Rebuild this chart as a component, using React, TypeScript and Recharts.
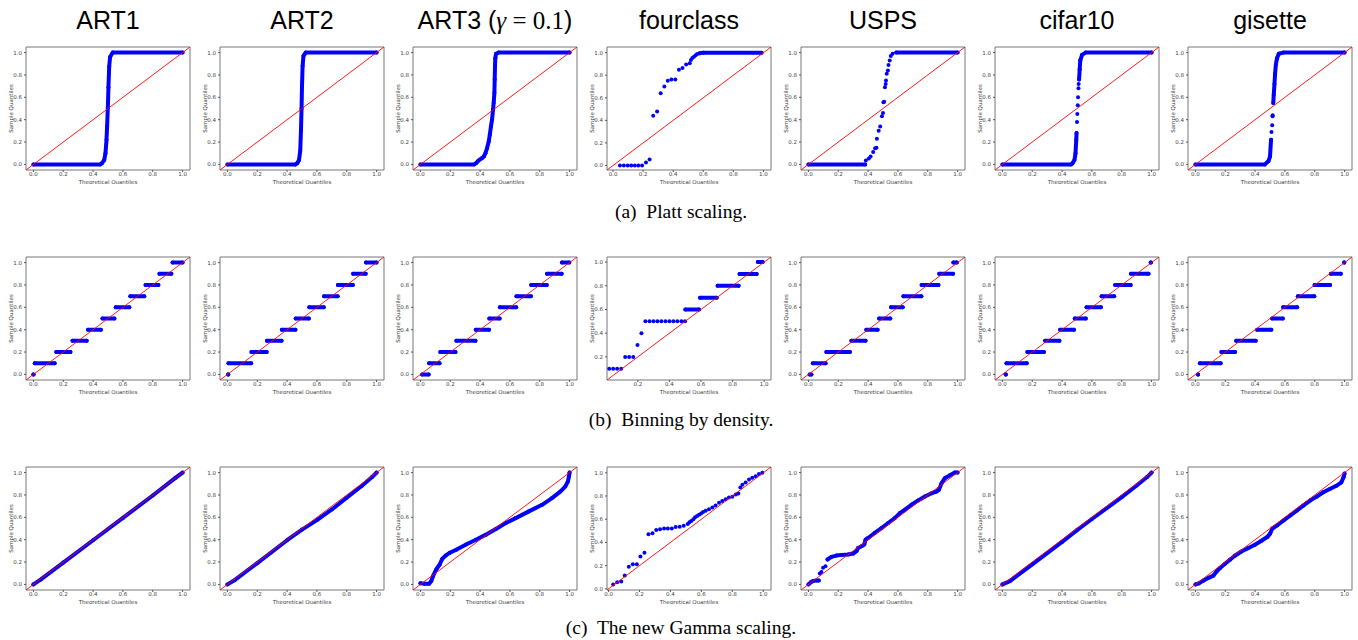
import React from "react";
import { ScatterChart, Scatter, XAxis, YAxis, ReferenceArea } from "recharts";

type Pt = [number, number];
type Step = [number, number, number]; // x from, x to, y

const columns = ["ART1", "ART2", "ART3", "fourclass", "USPS", "cifar10", "gisette"];
const captions = ["(a)  Platt scaling.", "(b)  Binning by density.", "(c)  The new Gamma scaling."];
const ticksAll = [0, 0.2, 0.4, 0.6, 0.8, 1.0];
const ticksFrom02 = [0.2, 0.4, 0.6, 0.8, 1.0];

// (a) Platt scaling
const plattArt1: Pt[] = [[0, 0], [0.448, 0], [0.459, 0.01], [0.475, 0.04], [0.483, 0.1], [0.49, 0.22], [0.494, 0.34], [0.499, 0.51], [0.503, 0.69], [0.508, 0.875], [0.514, 0.96], [0.532, 1], [1, 1]];
const plattArt2: Pt[] = [[0, 0], [0.455, 0], [0.468, 0.01], [0.48, 0.04], [0.488, 0.12], [0.493, 0.3], [0.497, 0.5], [0.5, 0.7], [0.504, 0.88], [0.51, 0.97], [0.525, 1], [1, 1]];
const plattArt3: Pt[] = [[0, 0], [0.36, 0], [0.374, 0.012], [0.39, 0.036], [0.414, 0.057], [0.425, 0.07], [0.436, 0.1], [0.447, 0.146], [0.458, 0.205], [0.465, 0.265], [0.473, 0.34], [0.48, 0.4], [0.487, 0.49], [0.491, 0.55], [0.496, 0.64], [0.498, 0.76], [0.5, 0.875], [0.502, 0.95], [0.507, 0.99], [0.524, 1], [1, 1]];
const plattFourclassDots: Pt[] = [[0.046, 0], [0.072, 0], [0.098, 0], [0.121, 0], [0.145, 0], [0.169, 0], [0.193, 0], [0.219, 0.027], [0.243, 0.054], [0.267, 0.44], [0.293, 0.479], [0.317, 0.64], [0.341, 0.7], [0.364, 0.75], [0.388, 0.762], [0.414, 0.762], [0.438, 0.848], [0.462, 0.863], [0.486, 0.896], [0.51, 0.905], [0.518, 0.935], [0.527, 0.952], [0.538, 0.964], [0.549, 0.976], [0.56, 0.988]];
const plattFourclassTail: Pt[] = [[0.575, 0.994], [0.6, 1], [0.987, 1]];
const plattUspsLow: Pt[] = [[0, 0], [0.38, 0]];
const plattUspsDots: Pt[] = [[0.385, 0.036], [0.405, 0.053], [0.417, 0.07], [0.434, 0.11], [0.447, 0.145], [0.456, 0.15], [0.459, 0.23], [0.471, 0.3], [0.481, 0.34], [0.493, 0.43], [0.5, 0.46], [0.503, 0.555], [0.508, 0.56], [0.513, 0.69], [0.518, 0.72], [0.52, 0.75], [0.525, 0.81], [0.533, 0.84], [0.537, 0.89], [0.545, 0.93], [0.552, 0.97], [0.564, 0.99]];
const plattUspsHigh: Pt[] = [[0.589, 1], [1, 1]];
const plattCifarLow: Pt[] = [[0, 0], [0.46, 0], [0.47, 0.01], [0.483, 0.04], [0.49, 0.1], [0.495, 0.22], [0.497, 0.28]];
const plattCifarDots: Pt[] = [[0.5, 0.38], [0.502, 0.45], [0.505, 0.53], [0.507, 0.6], [0.51, 0.68], [0.511, 0.72]];
const plattCifarHigh: Pt[] = [[0.514, 0.76], [0.518, 0.85], [0.522, 0.93], [0.534, 0.98], [0.558, 1], [1, 1]];
const plattGisetteLow: Pt[] = [[0, 0], [0.466, 0], [0.49, 0.03], [0.5, 0.07], [0.507, 0.22]];
const plattGisetteDots: Pt[] = [[0.51, 0.29], [0.515, 0.35], [0.517, 0.43], [0.518, 0.44]];
const plattGisetteHigh: Pt[] = [[0.522, 0.55], [0.525, 0.62], [0.53, 0.72], [0.534, 0.81], [0.539, 0.89], [0.547, 0.95], [0.559, 0.99], [0.588, 1], [1, 1]];

// (b) Binning by density
const binArt1: Step[] = [[0, 0, 0], [0.009, 0.142, 0.1], [0.153, 0.248, 0.2], [0.262, 0.357, 0.3], [0.366, 0.452, 0.4], [0.463, 0.543, 0.5], [0.552, 0.643, 0.6], [0.65, 0.743, 0.7], [0.752, 0.838, 0.8], [0.845, 0.925, 0.9], [0.933, 1.0, 1.0]];
const binArt2: Step[] = [[0.005, 0.005, 0], [0.007, 0.159, 0.1], [0.161, 0.263, 0.2], [0.265, 0.363, 0.3], [0.365, 0.456, 0.4], [0.458, 0.546, 0.5], [0.549, 0.646, 0.6], [0.648, 0.739, 0.7], [0.741, 0.841, 0.8], [0.843, 0.927, 0.9], [0.929, 1.0, 1.0]];
const binArt3: Step[] = [[0.011, 0.055, 0], [0.058, 0.128, 0.1], [0.133, 0.235, 0.2], [0.241, 0.369, 0.3], [0.371, 0.46, 0.4], [0.462, 0.531, 0.5], [0.533, 0.642, 0.6], [0.644, 0.741, 0.7], [0.743, 0.847, 0.8], [0.849, 0.947, 0.9], [0.949, 0.998, 1.0]];
const binFourclassDots: Pt[] = [[0.019, 0.1], [0.044, 0.1], [0.069, 0.1], [0.095, 0.1], [0.12, 0.2], [0.145, 0.2], [0.171, 0.2], [0.198, 0.3], [0.223, 0.4], [0.248, 0.5], [0.274, 0.5], [0.299, 0.5], [0.324, 0.5], [0.349, 0.5], [0.375, 0.5], [0.4, 0.5], [0.425, 0.5], [0.45, 0.5], [0.476, 0.5], [0.499, 0.5]];
const binFourclass: Step[] = [[0.501, 0.587, 0.6], [0.594, 0.699, 0.7], [0.705, 0.838, 0.8], [0.844, 0.952, 0.9], [0.96, 0.99, 1.0]];
const binUsps: Step[] = [[0.008, 0.02, 0], [0.03, 0.115, 0.1], [0.12, 0.278, 0.2], [0.288, 0.383, 0.3], [0.388, 0.464, 0.4], [0.474, 0.549, 0.5], [0.554, 0.632, 0.6], [0.637, 0.757, 0.7], [0.759, 0.872, 0.8], [0.877, 0.97, 0.9], [0.972, 0.995, 1.0]];
const binCifar: Step[] = [[0.022, 0.022, 0], [0.027, 0.163, 0.1], [0.167, 0.278, 0.2], [0.286, 0.382, 0.3], [0.387, 0.48, 0.4], [0.485, 0.559, 0.5], [0.564, 0.66, 0.6], [0.665, 0.749, 0.7], [0.756, 0.86, 0.8], [0.862, 0.98, 0.9], [0.995, 0.995, 1.0]];
const binGisette: Step[] = [[0.017, 0.017, 0], [0.03, 0.169, 0.1], [0.174, 0.266, 0.2], [0.273, 0.404, 0.3], [0.414, 0.509, 0.4], [0.514, 0.586, 0.5], [0.588, 0.682, 0.6], [0.687, 0.797, 0.7], [0.799, 0.903, 0.8], [0.908, 0.975, 0.9], [0.998, 0.998, 1.0]];

// (c) The new Gamma scaling
const gammaArt1: Pt[] = [[0, 0], [0.05, 0.045], [0.2, 0.195], [0.4, 0.395], [0.6, 0.595], [0.8, 0.795], [0.95, 0.95], [1, 1]];
const gammaArt2: Pt[] = [[0, 0], [0.05, 0.04], [0.2, 0.19], [0.4, 0.395], [0.5, 0.49], [0.6, 0.575], [0.7, 0.67], [0.8, 0.775], [0.9, 0.88], [0.97, 0.96], [1, 1]];
const gammaArt3: Pt[] = [[0, 0.01], [0.029, 0.006], [0.058, 0.006], [0.073, 0.03], [0.084, 0.074], [0.106, 0.134], [0.129, 0.178], [0.146, 0.228], [0.169, 0.258], [0.195, 0.282], [0.24, 0.31], [0.306, 0.356], [0.372, 0.4], [0.439, 0.445], [0.506, 0.496], [0.572, 0.549], [0.639, 0.593], [0.727, 0.653], [0.816, 0.712], [0.882, 0.772], [0.938, 0.83], [0.971, 0.875], [0.989, 0.92], [0.996, 0.964], [1, 1]];
const gammaFourclassDots: Pt[] = [[0.03, 0.037], [0.056, 0.057], [0.082, 0.063], [0.105, 0.115], [0.131, 0.19], [0.157, 0.212], [0.183, 0.212], [0.206, 0.278], [0.232, 0.312], [0.258, 0.47], [0.284, 0.478], [0.308, 0.507], [0.333, 0.513], [0.359, 0.519], [0.383, 0.519], [0.409, 0.521], [0.434, 0.533], [0.46, 0.536], [0.486, 0.544], [0.512, 0.559], [0.523, 0.573], [0.535, 0.585], [0.548, 0.599], [0.559, 0.616], [0.572, 0.628], [0.585, 0.639], [0.598, 0.65], [0.611, 0.662], [0.628, 0.673], [0.649, 0.685], [0.671, 0.702], [0.692, 0.719], [0.714, 0.742], [0.735, 0.756], [0.757, 0.771], [0.778, 0.788], [0.8, 0.794], [0.822, 0.814], [0.839, 0.822], [0.852, 0.874], [0.865, 0.897], [0.886, 0.917], [0.908, 0.943], [0.929, 0.957], [0.951, 0.971], [0.972, 0.989], [0.994, 1.0]];
const gammaUspsLow: Pt[] = [[0, 0], [0.016, 0.02], [0.031, 0.03], [0.054, 0.036], [0.069, 0.036]];
const gammaUspsDots: Pt[] = [[0.076, 0.098], [0.087, 0.11], [0.098, 0.148], [0.114, 0.163]];
const gammaUspsHigh: Pt[] = [[0.128, 0.223], [0.154, 0.246], [0.188, 0.258], [0.221, 0.264], [0.266, 0.267], [0.3, 0.276], [0.322, 0.297], [0.333, 0.326], [0.356, 0.341], [0.374, 0.356], [0.383, 0.4], [0.4, 0.415], [0.445, 0.46], [0.49, 0.504], [0.535, 0.549], [0.579, 0.593], [0.613, 0.638], [0.647, 0.668], [0.691, 0.712], [0.736, 0.751], [0.781, 0.786], [0.826, 0.816], [0.859, 0.831], [0.875, 0.846], [0.893, 0.905], [0.915, 0.95], [0.949, 0.976], [0.982, 1.0], [1, 1]];
const gammaCifar: Pt[] = [[0, 0], [0.05, 0.03], [0.2, 0.18], [0.4, 0.38], [0.5, 0.485], [0.6, 0.585], [0.8, 0.78], [0.9, 0.885], [0.97, 0.96], [1, 1]];
const gammaGisette: Pt[] = [[0, 0], [0.022, 0.009], [0.055, 0.035], [0.088, 0.059], [0.121, 0.079], [0.143, 0.118], [0.165, 0.147], [0.198, 0.185], [0.231, 0.221], [0.264, 0.256], [0.308, 0.294], [0.352, 0.324], [0.396, 0.353], [0.44, 0.388], [0.484, 0.426], [0.501, 0.456], [0.516, 0.5], [0.549, 0.529], [0.593, 0.574], [0.637, 0.618], [0.681, 0.662], [0.725, 0.706], [0.769, 0.75], [0.813, 0.785], [0.857, 0.824], [0.901, 0.853], [0.945, 0.882], [0.978, 0.912], [0.993, 0.956], [1, 0.991]];

type Panel = { segs: Pt[][]; dots: Pt[]; domain: [number, number]; ticks: number[] };

const BLUE = "#0000ff";
const STD: [number, number] = [-0.05, 1.05];
const steps = (s: Step[]): Pt[][] => s.map(([a, b, y]) => [[a, y], [b, y]]);
const panel = (segs: Pt[][], dots: Pt[] = [], domain = STD, ticks = ticksAll): Panel => ({ segs, dots, domain, ticks });

const rows: Panel[][] = [
  [
    panel([plattArt1]),
    panel([plattArt2]),
    panel([plattArt3]),
    panel([plattFourclassTail], plattFourclassDots, [-0.04, 1.05]),
    panel([plattUspsLow, plattUspsHigh], plattUspsDots),
    panel([plattCifarLow, plattCifarHigh], plattCifarDots),
    panel([plattGisetteLow, plattGisetteHigh], plattGisetteDots),
  ],
  [
    panel(steps(binArt1)),
    panel(steps(binArt2)),
    panel(steps(binArt3)),
    panel(steps(binFourclass), binFourclassDots, [0.005, 1.043], ticksFrom02),
    panel(steps(binUsps)),
    panel(steps(binCifar)),
    panel(steps(binGisette)),
  ],
  [
    panel([gammaArt1]),
    panel([gammaArt2]),
    panel([gammaArt3]),
    panel([], gammaFourclassDots, [-0.01, 1.05]),
    panel([gammaUspsLow, gammaUspsHigh], gammaUspsDots),
    panel([gammaCifar]),
    panel([gammaGisette]),
  ],
];

const rowTops = [47, 257, 467];
const captionY = [212, 420, 628];
const colStep = 193.7;

const tickStyle = { fontSize: 5.5, fill: "#444", fontFamily: "DejaVu Sans" };

const dotShape = (p: any) => <circle cx={p.cx} cy={p.cy} r={2} fill={BLUE} />;
const noShape = () => <g />;

const XLabel = (props: any) => {
  const vb = props.viewBox;
  return (
    <text x={vb.x + vb.width / 2} y={vb.y + 11.5} textAnchor="middle" dominantBaseline="central" style={tickStyle}>
      Theoretical Quantiles
    </text>
  );
};

const YLabel = (props: any) => {
  const vb = props.viewBox;
  const cx = vb.x + 11;
  const cy = vb.y + vb.height / 2;
  return (
    <text x={cx} y={cy} transform={`rotate(-90 ${cx} ${cy})`} textAnchor="middle" dominantBaseline="central" style={tickStyle}>
      Sample Quantiles
    </text>
  );
};

function QQ({ p }: { p: Panel }) {
  const [lo, hi] = p.domain;
  return (
    <ScatterChart width={194} height={139} margin={{ top: 2, right: 4, bottom: 0, left: 0 }}>
      <XAxis
        type="number"
        dataKey="x"
        domain={[lo, hi]}
        ticks={p.ticks}
        allowDataOverflow
        tickFormatter={(v: number) => v.toFixed(1)}
        height={14}
        axisLine={false}
        tickSize={2}
        tickMargin={0}
        tickLine={{ stroke: "#555" }}
        tick={tickStyle}
        label={<XLabel />}
      />
      <YAxis
        type="number"
        dataKey="y"
        domain={[lo, hi]}
        ticks={p.ticks}
        allowDataOverflow
        tickFormatter={(v: number) => v.toFixed(1)}
        width={26}
        axisLine={false}
        tickSize={2}
        tickLine={{ stroke: "#555" }}
        tick={tickStyle}
        label={<YLabel />}
      />
      <ReferenceArea x1={lo} x2={hi} y1={lo} y2={hi} fill="none" fillOpacity={0} stroke="#777" strokeWidth={1} strokeOpacity={1} />
      {p.segs.map((s, k) => (
        <Scatter
          key={"s" + k}
          data={s.map(([x, y]) => ({ x, y }))}
          fill={BLUE}
          isAnimationActive={false}
          line={{ stroke: BLUE, strokeWidth: 4, strokeLinecap: "round", strokeLinejoin: "round" }}
          shape={dotShape}
        />
      ))}
      {p.dots.length > 0 && (
        <Scatter data={p.dots.map(([x, y]) => ({ x, y }))} fill={BLUE} isAnimationActive={false} shape={dotShape} />
      )}
      {/* 45-degree reference line, drawn last so it sits on top */}
      <Scatter
        data={[{ x: lo, y: lo }, { x: hi, y: hi }]}
        fill="#ff0000"
        isAnimationActive={false}
        line={{ stroke: "#ff0000", strokeWidth: 0.9 }}
        shape={noShape}
      />
    </ScatterChart>
  );
}

function Title({ name }: { name: string }) {
  if (name === "ART3") {
    return (
      <span>
        ART3 (<span style={{ fontFamily: "Liberation Serif", fontStyle: "italic" }}>γ</span>
        <span style={{ fontFamily: "Liberation Serif" }}> = 0.1</span>)
      </span>
    );
  }
  return <span>{name}</span>;
}

export default function App() {
  return (
    <div style={{ position: "absolute", left: 0, top: 0, width: 1358, height: 640, background: "#fff", overflow: "hidden" }}>
      {columns.map((c, i) => (
        <div
          key={c}
          style={{
            position: "absolute",
            left: 26 + Math.round(colStep * i) + 82,
            top: 20,
            transform: "translate(-50%, -50%)",
            whiteSpace: "nowrap",
            fontFamily: "Liberation Sans",
            fontSize: 25,
            color: "#000",
          }}
        >
          <Title name={c} />
        </div>
      ))}
      {rows.map((row, r) =>
        row.map((p, i) => (
          <div key={r + "-" + i} style={{ position: "absolute", left: Math.round(colStep * i), top: rowTops[r] - 2 }}>
            <QQ p={p} />
          </div>
        ))
      )}
      {captions.map((c, r) => (
        <div
          key={c}
          style={{
            position: "absolute",
            left: 681,
            top: captionY[r],
            transform: "translate(-50%, -50%)",
            whiteSpace: "pre",
            fontFamily: "Liberation Serif",
            fontSize: 19.5,
            color: "#000",
          }}
        >
          {c}
        </div>
      ))}
    </div>
  );
}
